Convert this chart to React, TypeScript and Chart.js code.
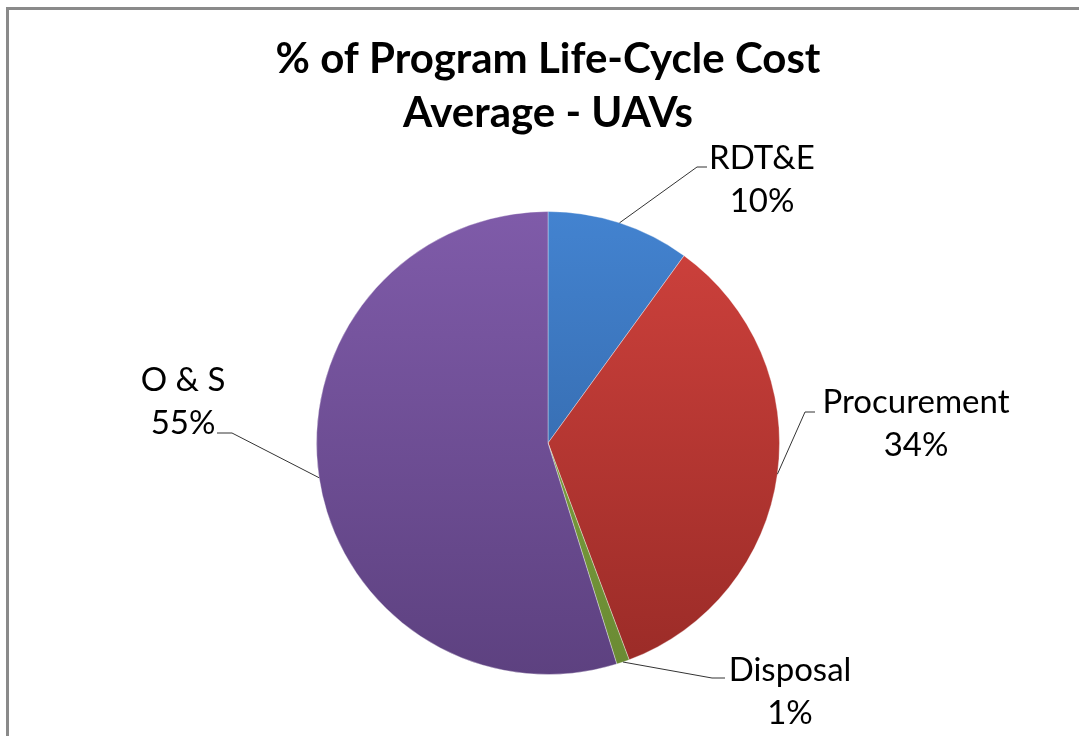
import React, { useEffect, useRef } from "react";
import { Chart, registerables } from "chart.js";

Chart.register(...registerables);

const titleLines = ["% of Program Life-Cycle Cost", "Average - UAVs"];
const categories = ["RDT&E", "Procurement", "Disposal", "O & S"];
const shares = [10.0, 34.3, 0.9, 54.8];
const percentLabels = ["10%", "34%", "1%", "55%"];
const topColors = ["#4383d0", "#d0423d", "#86ab45", "#7f5ba9"];
const bottomColors = ["#2d5c99", "#9a2b27", "#6a8a33", "#5d4180"];

// label layout: text centre, leader elbow and horizontal stub end
const labelPos = [
  { x: 762, y: 158, elbow: [697, 167], stub: [707, 167] },
  { x: 916, y: 402, elbow: [805, 412], stub: [815, 412] },
  { x: 790, y: 670, elbow: [712, 678], stub: [725, 678] },
  { x: 183, y: 380, elbow: [232, 433], stub: [217, 433] },
];

const textPlugin = {
  id: "texts",
  afterDatasetsDraw(chart: any) {
    const ctx = chart.ctx;
    const meta = chart.getDatasetMeta(0);
    ctx.save();
    // title
    ctx.fillStyle = "#000";
    ctx.textAlign = "center";
    ctx.textBaseline = "middle";
    ctx.font = "bold 42px Lato, 'Open Sans', sans-serif";
    const cx = (chart.chartArea.left + chart.chartArea.right) / 2;
    titleLines.forEach((t, i) => ctx.fillText(t, cx, 59 + i * 54));
    // data labels
    ctx.font = "33px Lato, 'Open Sans', sans-serif";
    meta.data.forEach((arc: any, i: number) => {
      const p = labelPos[i];
      const { x, y, startAngle, endAngle, outerRadius } = arc.getProps(
        ["x", "y", "startAngle", "endAngle", "outerRadius"],
        true
      );
      const a = (startAngle + endAngle) / 2;
      const sx = x + Math.cos(a) * outerRadius;
      const sy = y + Math.sin(a) * outerRadius;
      ctx.strokeStyle = "#333";
      ctx.lineWidth = 1;
      ctx.beginPath();
      ctx.moveTo(sx, sy);
      ctx.lineTo(p.elbow[0], p.elbow[1]);
      ctx.lineTo(p.stub[0], p.stub[1]);
      ctx.stroke();
      ctx.fillText(categories[i], p.x, p.y);
      ctx.fillText(percentLabels[i], p.x, p.y + 43);
    });
    ctx.restore();
  },
};

export default function App() {
  const ref = useRef<HTMLCanvasElement>(null);
  useEffect(() => {
    const canvas = ref.current!;
    const chart = new Chart(canvas, {
      type: "pie",
      data: {
        labels: categories,
        datasets: [
          {
            data: shares,
            backgroundColor: (c: any) => {
              const area = c.chart.chartArea;
              if (!area) return topColors[c.dataIndex];
              const g = c.chart.ctx.createLinearGradient(0, area.top, 0, area.bottom);
              g.addColorStop(0, topColors[c.dataIndex]);
              g.addColorStop(1, bottomColors[c.dataIndex]);
              return g;
            },
            borderColor: "rgba(255,255,255,0.35)",
            borderWidth: 1,
            hoverOffset: 0,
          },
        ],
      },
      options: {
        animation: false,
        responsive: false,
        events: [],
        layout: { padding: { top: 211, left: 316, right: 299, bottom: 61 } },
        plugins: {
          legend: { display: false },
          tooltip: { enabled: false },
          title: { display: false },
        },
      },
      plugins: [textPlugin],
    });
    return () => chart.destroy();
  }, []);
  return (
    <div style={{ position: "fixed", left: 0, top: 0, width: 1079, height: 736, overflow: "hidden", background: "#fff" }}>
      <div style={{ position: "absolute", left: 6, top: 7, width: 1073, height: 3, background: "#8a8a8a" }} />
      <div style={{ position: "absolute", left: 6, top: 7, width: 3, height: 729, background: "#8a8a8a" }} />
      <canvas ref={ref} width={1079} height={736} style={{ position: "absolute", left: 0, top: 0 }} />
    </div>
  );
}
